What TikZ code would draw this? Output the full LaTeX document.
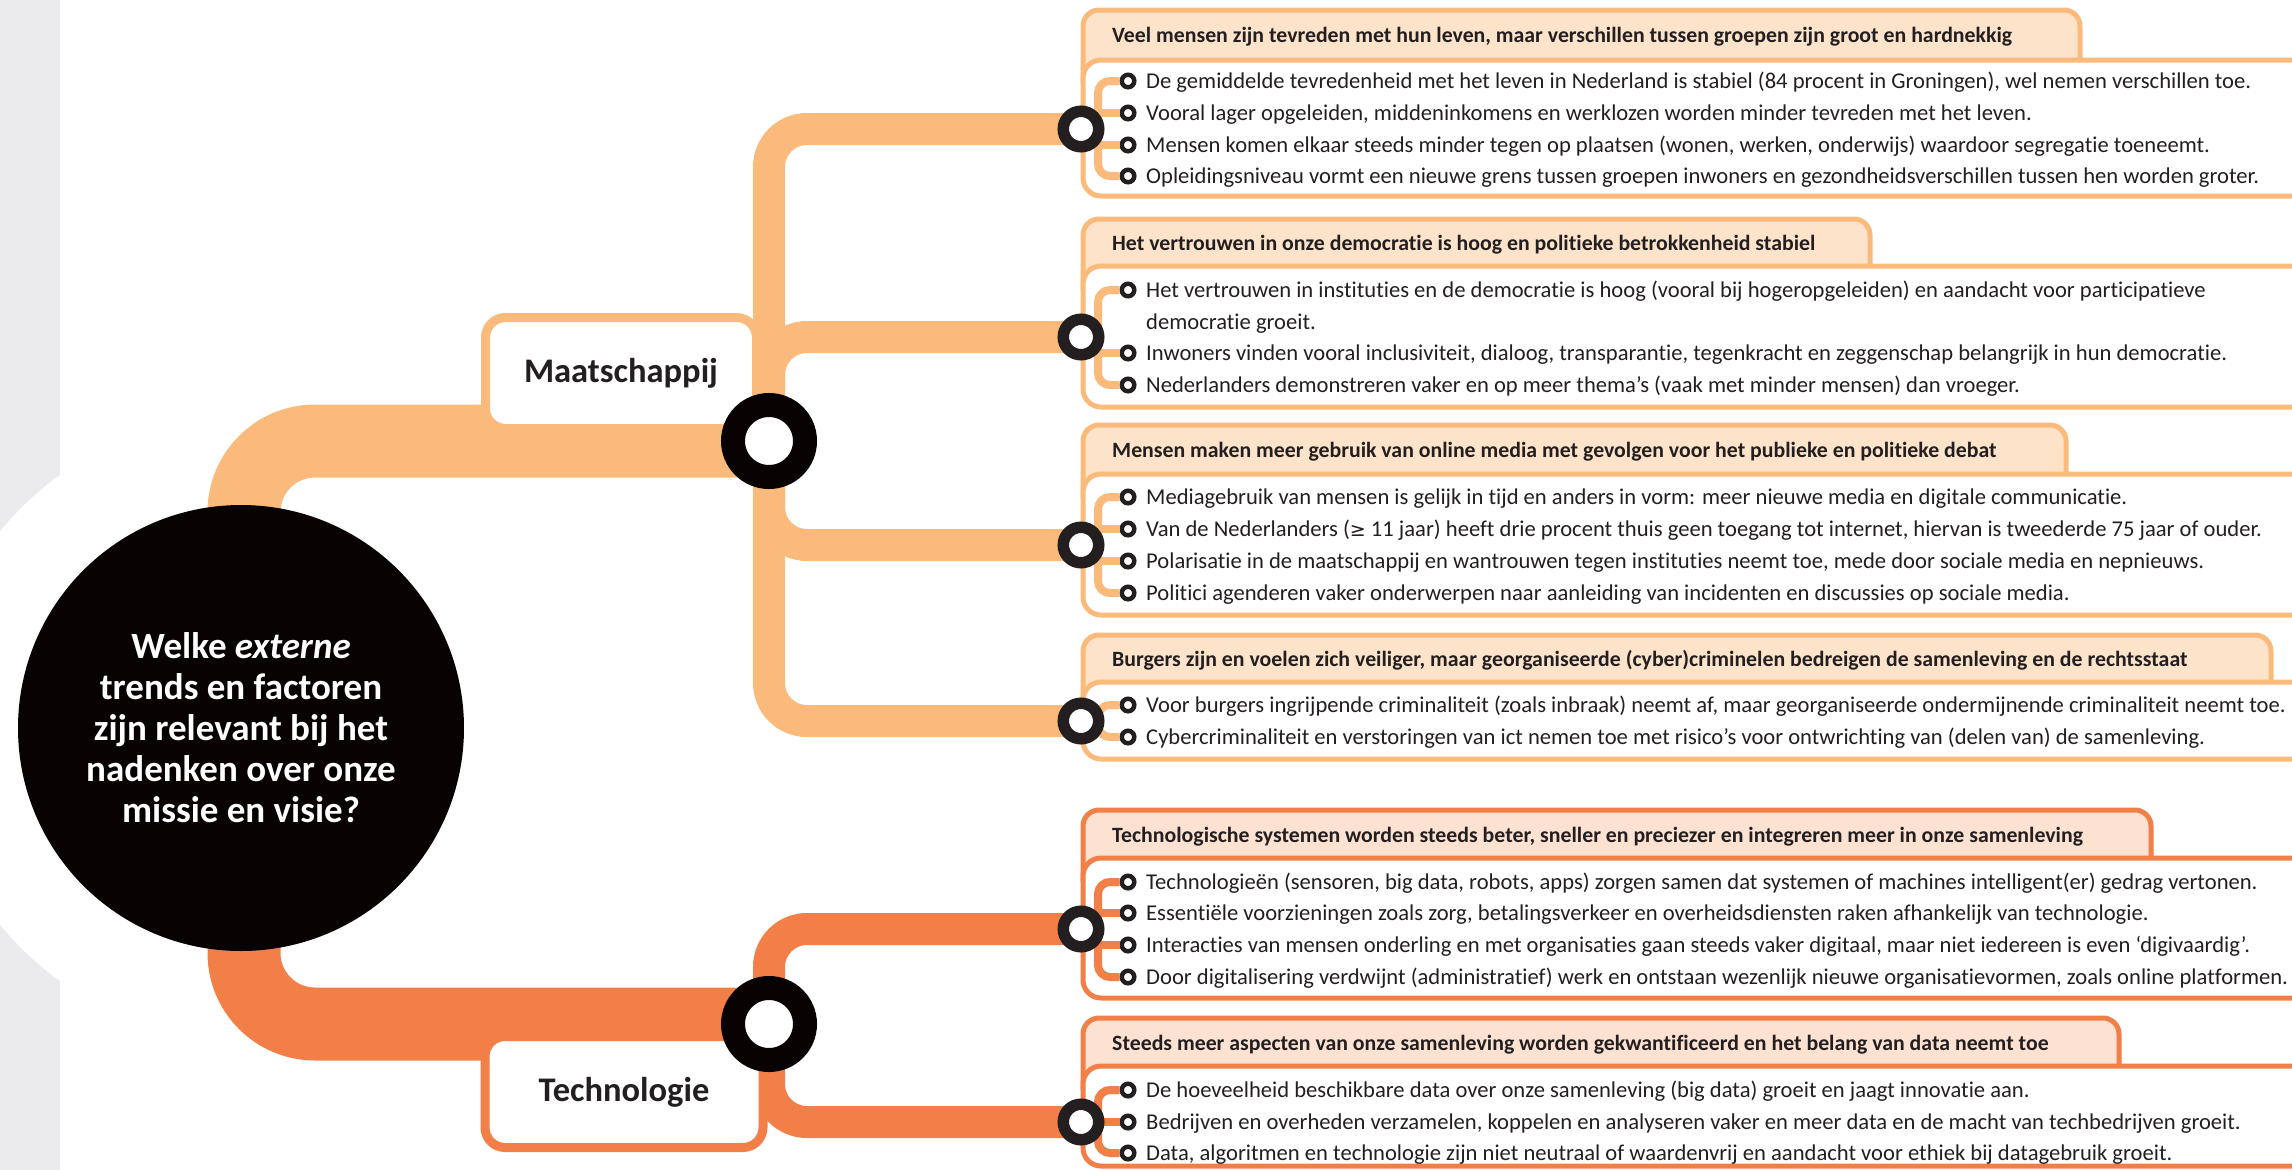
\documentclass[tikz,border=0pt]{standalone}
\usepackage{fontspec}
\setmainfont{Carlito}[Ligatures=CommonOff]
\newfontfamily\symfont{DejaVu Sans}
\definecolor{mband}{HTML}{F9BA7B}
\definecolor{tband}{HTML}{F37F48}
\definecolor{mtab}{HTML}{FDE3C9}
\definecolor{ttab}{HTML}{FDE1D1}
\definecolor{ringc}{HTML}{231F20}
\definecolor{qblack}{HTML}{080203}
\definecolor{stripg}{HTML}{EBEBED}
\tikzset{
  mainM/.style={draw=mband, line width=73, rounded corners=71},
  mainT/.style={draw=tband, line width=73, rounded corners=71},
  subM/.style={draw=mband, line width=32, rounded corners=38},
  subT/.style={draw=tband, line width=32, rounded corners=38},
  tabM/.style={draw=mband, fill=mtab, line width=5, rounded corners=16},
  tabT/.style={draw=tband, fill=ttab, line width=5, rounded corners=16},
  bodyM/.style={draw=mband, fill=white, line width=5, rounded corners=18},
  bodyT/.style={draw=tband, fill=white, line width=5, rounded corners=18},
  connM/.style={draw=mband, line width=8, rounded corners=12},
  connT/.style={draw=tband, line width=8, rounded corners=12},
  btxt/.style={anchor=base west, inner sep=0, font=\fontsize{22.6}{26}\selectfont, text=ringc},
  ttl/.style={anchor=base west, inner sep=0, font=\fontsize{21.8}{26}\selectfont\bfseries, text=ringc},
  bul/.style={circle, draw=ringc, line width=4.5, fill=white, minimum size=12.5, inner sep=0},
  hubs/.style={circle, draw=ringc, line width=11.5, fill=white, minimum size=35.5, inner sep=0},
  hubb/.style={circle, draw=qblack, line width=24, fill=white, minimum size=72, inner sep=0},
  catbox/.style={fill=white, line width=9, rounded corners=20, inner sep=0,
    font=\fontsize{34.5}{38}\selectfont\bfseries, text=ringc},
}
\begin{document}
\begin{tikzpicture}[x=1pt,y=-1pt]
\useasboundingbox (0,0) rectangle (2292,1170);
\clip (0,0) rectangle (2292,1170);
% background
\fill[stripg] (0,0) rectangle (60,1170);
\fill[white] (241,728) circle[radius=311];
% anchor coordinates
\coordinate (qc) at (244,728);
\coordinate (hubM) at (769,441);
\coordinate (hubT) at (769,1024);
\coordinate (hm1) at (1081,129);
\coordinate (hm2) at (1081,337);
\coordinate (hm3) at (1081,545);
\coordinate (hm4) at (1081,721);
\coordinate (ht1) at (1081,929);
\coordinate (ht2) at (1081,1122);
% bands
\draw[mainM] (qc) |- (hubM);
\draw[mainT] (qc) |- (hubT);
\draw[subM] (hubM) |- (hm1);
\draw[subM] (hubM) |- (hm2);
\draw[subM] (hubM) |- (hm3);
\draw[subM] (hubM) |- (hm4);
\draw[subT] (hubT) |- (ht1);
\draw[subT] (hubT) |- (ht2);
% category boxes
\node[catbox, draw=mband, minimum width=271, minimum height=111] (maat) at (621,373) {Maatschappij};
\node[catbox, draw=tband, minimum width=278, minimum height=111] (tech) at (624,1092) {Technologie};

% ---------- panel M1
\draw[tabM] (1083,84) -- (1083,10) -- (2080,10) -- (2080,84);
\draw[bodyM] (2340,60) -- (1083,60) -- (1083,196) -- (2340,196);
\node[ttl] (m1t) at (1112,42) {Veel mensen zijn tevreden met hun leven, maar verschillen tussen groepen zijn groot en hardnekkig};
\coordinate (m1v) at (1098,129);
\node[bul] (m1a) at (1128,81) {};
\node[bul] (m1b) at (1128,113) {};
\node[bul] (m1c) at (1128,145) {};
\node[bul] (m1d) at (1128,176) {};
\draw[connM] (m1a) -| (m1v) |- (m1d);
\draw[connM] (m1v |- m1b) -- (m1b);
\draw[connM] (m1v |- m1c) -- (m1c);
\node[btxt] (m1at) at (1146,88) {De gemiddelde tevredenheid met het leven in Nederland is stabiel (84 procent in Groningen), wel nemen verschillen toe.};
\node[btxt] (m1bt) at (1146,120) {Vooral lager opgeleiden, middeninkomens en werklozen worden minder tevreden met het leven.};
\node[btxt] (m1ct) at (1146,152) {Mensen komen elkaar steeds minder tegen op plaatsen (wonen, werken, onderwijs) waardoor segregatie toeneemt.};
\node[btxt] (m1dt) at (1146,183) {Opleidingsniveau vormt een nieuwe grens tussen groepen inwoners en gezondheidsverschillen tussen hen worden groter.};

% ---------- panel M2
\draw[tabM] (1083,290) -- (1083,219) -- (1870,219) -- (1870,290);
\draw[bodyM] (2340,266) -- (1083,266) -- (1083,407) -- (2340,407);
\node[ttl] (m2t) at (1112,250) {Het vertrouwen in onze democratie is hoog en politieke betrokkenheid stabiel};
\coordinate (m2v) at (1098,337);
\node[bul] (m2a) at (1128,290) {};
\node[bul] (m2b) at (1128,353) {};
\node[bul] (m2c) at (1128,385) {};
\draw[connM] (m2a) -| (m2v) |- (m2c);
\draw[connM] (m2v |- m2b) -- (m2b);
\node[btxt] (m2at) at (1146,297) {Het vertrouwen in instituties en de democratie is hoog (vooral bij hogeropgeleiden) en aandacht voor participatieve};
\node[btxt] (m2at2) at (1146,329) {democratie groeit.};
\node[btxt] (m2bt) at (1146,360) {Inwoners vinden vooral inclusiviteit, dialoog, transparantie, tegenkracht en zeggenschap belangrijk in hun democratie.};
\node[btxt] (m2ct) at (1146,392) {Nederlanders demonstreren vaker en op meer thema’s (vaak met minder mensen) dan vroeger.};

% ---------- panel M3
\draw[tabM] (1083,498) -- (1083,425) -- (2066,425) -- (2066,498);
\draw[bodyM] (2340,474) -- (1083,474) -- (1083,615) -- (2340,615);
\node[ttl] (m3t) at (1112,457) {Mensen maken meer gebruik van online media met gevolgen voor het publieke en politieke debat};
\coordinate (m3v) at (1098,545);
\node[bul] (m3a) at (1128,497) {};
\node[bul] (m3b) at (1128,529) {};
\node[bul] (m3c) at (1128,561) {};
\node[bul] (m3d) at (1128,593) {};
\draw[connM] (m3a) -| (m3v) |- (m3d);
\draw[connM] (m3v |- m3b) -- (m3b);
\draw[connM] (m3v |- m3c) -- (m3c);
\node[btxt] (m3at) at (1146,504) {Mediagebruik van mensen is gelijk in tijd en anders in vorm: meer nieuwe media en digitale communicatie.};
\node[btxt] (m3bt) at (1146,536) {Van de Nederlanders ({\symfont\fontsize{19}{22}\selectfont ≥}~11 jaar) heeft drie procent thuis geen toegang tot internet, hiervan is tweederde 75 jaar of ouder.};
\node[btxt] (m3ct) at (1146,568) {Polarisatie in de maatschappij en wantrouwen tegen instituties neemt toe, mede door sociale media en nepnieuws.};
\node[btxt] (m3dt) at (1146,600) {Politici agenderen vaker onderwerpen naar aanleiding van incidenten en discussies op sociale media.};

% ---------- panel M4
\draw[tabM] (1083,706) -- (1083,635) -- (2271,635) -- (2271,706);
\draw[bodyM] (2340,682) -- (1083,682) -- (1083,759) -- (2340,759);
\node[ttl] (m4t) at (1112,666) {Burgers zijn en voelen zich veiliger, maar georganiseerde (cyber)criminelen bedreigen de samenleving en de rechtsstaat};
\coordinate (m4v) at (1098,721);
\node[bul] (m4a) at (1128,705) {};
\node[bul] (m4b) at (1128,737) {};
\draw[connM] (m4a) -| (m4v) |- (m4b);
\node[btxt] (m4at) at (1146,712) {Voor burgers ingrijpende criminaliteit (zoals inbraak) neemt af, maar georganiseerde ondermijnende criminaliteit neemt toe.};
\node[btxt] (m4bt) at (1146,744) {Cybercriminaliteit en verstoringen van ict nemen toe met risico’s voor ontwrichting van (delen van) de samenleving.};

% ---------- panel T1
\draw[tabT] (1083,882) -- (1083,810) -- (2151,810) -- (2151,882);
\draw[bodyT] (2340,858) -- (1083,858) -- (1083,998) -- (2340,998);
\node[ttl] (t1t) at (1112,842) {Technologische systemen worden steeds beter, sneller en preciezer en integreren meer in onze samenleving};
\coordinate (t1v) at (1098,929);
\node[bul] (t1a) at (1128,882) {};
\node[bul] (t1b) at (1128,913) {};
\node[bul] (t1c) at (1128,945) {};
\node[bul] (t1d) at (1128,977) {};
\draw[connT] (t1a) -| (t1v) |- (t1d);
\draw[connT] (t1v |- t1b) -- (t1b);
\draw[connT] (t1v |- t1c) -- (t1c);
\node[btxt] (t1at) at (1146,889) {Technologieën (sensoren, big data, robots, apps) zorgen samen dat systemen of machines intelligent(er) gedrag vertonen.};
\node[btxt] (t1bt) at (1146,920) {Essentiële voorzieningen zoals zorg, betalingsverkeer en overheidsdiensten raken afhankelijk van technologie.};
\node[btxt] (t1ct) at (1146,952) {Interacties van mensen onderling en met organisaties gaan steeds vaker digitaal, maar niet iedereen is even ‘digivaardig’.};
\node[btxt] (t1dt) at (1146,984) {Door digitalisering verdwijnt (administratief) werk en ontstaan wezenlijk nieuwe organisatievormen, zoals online platformen.};

% ---------- panel T2
\draw[tabT] (1083,1090) -- (1083,1018) -- (2119,1018) -- (2119,1090);
\draw[bodyT] (2340,1066) -- (1083,1066) -- (1083,1166) -- (2340,1166);
\node[ttl] (t2t) at (1112,1050) {Steeds meer aspecten van onze samenleving worden gekwantificeerd en het belang van data neemt toe};
\coordinate (t2v) at (1098,1122);
\node[bul] (t2a) at (1128,1090) {};
\node[bul] (t2b) at (1128,1122) {};
\node[bul] (t2c) at (1128,1153) {};
\draw[connT] (t2a) -| (t2v) |- (t2c);
\draw[connT] (t2v |- t2b) -- (t2b);
\node[btxt] (t2at) at (1146,1097) {De hoeveelheid beschikbare data over onze samenleving (big data) groeit en jaagt innovatie aan.};
\node[btxt] (t2bt) at (1146,1129) {Bedrijven en overheden verzamelen, koppelen en analyseren vaker en meer data en de macht van techbedrijven groeit.};
\node[btxt] (t2ct) at (1146,1160) {Data, algoritmen en technologie zijn niet neutraal of waardenvrij en aandacht voor ethiek bij datagebruik groeit.};

% ---------- hub rings
\node[hubb] (hubMr) at (hubM) {};
\node[hubb] (hubTr) at (hubT) {};
\node[hubs] (hm1r) at (hm1) {};
\node[hubs] (hm2r) at (hm2) {};
\node[hubs] (hm3r) at (hm3) {};
\node[hubs] (hm4r) at (hm4) {};
\node[hubs] (ht1r) at (ht1) {};
\node[hubs] (ht2r) at (ht2) {};

% ---------- central question
\node[circle, fill=qblack, minimum size=446, inner sep=0, text=white, align=center,
  font=\fontsize{37}{41}\selectfont\bfseries] (quest) at (241,728)
  {Welke \textit{externe}\\trends en factoren\\zijn relevant bij het\\nadenken over onze\\missie en visie?};
\end{tikzpicture}
\end{document}
